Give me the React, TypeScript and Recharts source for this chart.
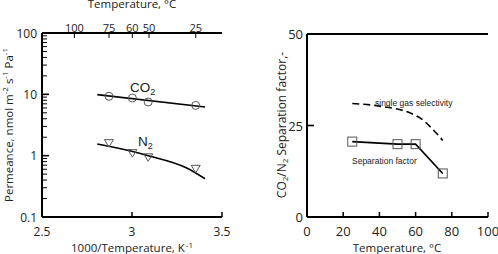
import React from "react";
import { LineChart, Line, XAxis, YAxis } from "recharts";

// ---- left panel: permeance vs 1000/T ----
const invTTicks = [2.5, 3, 3.5];
const permMajorTicks = [0.1, 1, 10, 100];
const permMinorTicks = [
  0.2, 0.3, 0.4, 0.5, 0.6, 0.7, 0.8, 0.9,
  2, 3, 4, 5, 6, 7, 8, 9,
  20, 30, 40, 50, 60, 70, 80, 90,
];
const tempTopTicks = [100, 75, 60, 50, 25]; // °C on the top axis

const co2Points = [
  { x: 2.872, y: 9.3 },
  { x: 3.002, y: 8.7 },
  { x: 3.09, y: 7.5 },
  { x: 3.354, y: 6.6 },
];
const co2Fit = [
  { x: 2.807, y: 9.9 },
  { x: 3.406, y: 6.2 },
];
const n2Points = [
  { x: 2.872, y: 1.6 },
  { x: 3.002, y: 1.1 },
  { x: 3.09, y: 0.94 },
  { x: 3.354, y: 0.61 },
];
const n2Fit = [
  { x: 2.807, y: 1.55 },
  { x: 2.998, y: 1.18 },
  { x: 3.09, y: 1.0 },
  { x: 3.304, y: 0.63 },
  { x: 3.406, y: 0.42 },
];

// ---- right panel: separation factor vs T ----
const tempTicks = [0, 20, 40, 60, 80, 100];
const sepTicks = [0, 25, 50];
const sepFactor = [
  { x: 25, y: 20.6 },
  { x: 50, y: 19.9 },
  { x: 60, y: 19.9 },
  { x: 75, y: 11.9 },
];
const singleGas = [
  { x: 25, y: 31 },
  { x: 40, y: 30.3 },
  { x: 58, y: 28.2 },
  { x: 63, y: 26.9 },
  { x: 69, y: 24.2 },
  { x: 75, y: 20.9 },
];

const FONT = '"Open Sans", sans-serif';
const INK = "#222";
const MARK = "#555";
const axisLine = { stroke: "#000", strokeWidth: 2 };

const toInvT = (t: number) => 1000 / (t + 273.15);

function LeftYTick(props: any) {
  const { x, y, payload } = props;
  const major = permMajorTicks.includes(payload.value);
  return (
    <g>
      <line x1={x} x2={x + (major ? 7 : 5)} y1={y} y2={y} stroke="#000" strokeWidth={major ? 1.6 : 1} />
      {major && (
        <text x={x - 5} y={y} textAnchor="end" dominantBaseline="central" fontSize={12} fill={INK} fontFamily={FONT}>
          {String(payload.value)}
        </text>
      )}
    </g>
  );
}

function BottomTick(props: any) {
  const { x, y, payload, size } = props;
  return (
    <g>
      <line x1={x} x2={x} y1={y} y2={y - 5} stroke="#000" strokeWidth={1.5} />
      <text x={x} y={y + 14} textAnchor="middle" dominantBaseline="central" fontSize={size} fill={INK} fontFamily={FONT}>
        {String(payload.value)}
      </text>
    </g>
  );
}

function TopTempTick(props: any) {
  const { x, y, payload } = props;
  const label = Math.round(1000 / payload.value - 273.15);
  return (
    <g>
      <line x1={x} x2={x} y1={y} y2={y + 5} stroke="#000" strokeWidth={1} />
      <text x={x} y={y - 5.5} textAnchor="middle" dominantBaseline="central" fontSize={11} fill={INK} fontFamily={FONT}>
        {label}
      </text>
    </g>
  );
}

function RightYTick(props: any) {
  const { x, y, payload } = props;
  return (
    <g>
      <line x1={x} x2={x + 7} y1={y} y2={y} stroke="#000" strokeWidth={1.6} />
      <text x={x - 4} y={y} textAnchor="end" dominantBaseline="central" fontSize={13} fill={INK} fontFamily={FONT}>
        {String(payload.value)}
      </text>
    </g>
  );
}

const Circle = (p: any) => (
  <circle key={p.index} cx={p.cx} cy={p.cy} r={4} fill="none" stroke={MARK} strokeWidth={1} />
);
const Triangle = (p: any) => (
  <polygon
    key={p.index}
    points={`${p.cx - 4.5},${p.cy - 3.5} ${p.cx + 4.5},${p.cy - 3.5} ${p.cx},${p.cy + 4}`}
    fill="none"
    stroke={MARK}
    strokeWidth={1}
  />
);
const Square = (p: any) => (
  <rect key={p.index} x={p.cx - 4.5} y={p.cy - 4.5} width={9} height={9} fill="none" stroke={MARK} strokeWidth={1} />
);

export default function App() {
  return (
    <div style={{ position: "absolute", left: 0, top: 0, width: 498, height: 254, background: "#fff", overflow: "hidden" }}>
      <div style={{ position: "absolute", left: 0, top: 0 }}>
        <LineChart width={250} height={254} margin={{ top: 0, right: 28, bottom: 0, left: 0 }}>
          <XAxis
            xAxisId="b"
            type="number"
            dataKey="x"
            domain={[2.5, 3.5]}
            ticks={invTTicks}
            interval={0}
            height={37}
            tickSize={0}
            tickMargin={0}
            tickLine={false}
            axisLine={axisLine}
            allowDataOverflow
            tick={(p: any) => <BottomTick {...p} size={12} />}
          />
          <XAxis
            xAxisId="t"
            orientation="top"
            type="number"
            dataKey="x"
            domain={[2.5, 3.5]}
            ticks={tempTopTicks.map(toInvT)}
            interval={0}
            height={33}
            tickSize={0}
            tickMargin={0}
            tickLine={false}
            axisLine={axisLine}
            allowDataOverflow
            tick={TopTempTick}
          />
          <YAxis
            yAxisId="l"
            scale="log"
            type="number"
            domain={[0.1, 100]}
            ticks={[...permMajorTicks, ...permMinorTicks]}
            interval={0}
            width={42}
            tickSize={0}
            tickMargin={0}
            tickLine={false}
            axisLine={axisLine}
            allowDataOverflow
            tick={LeftYTick}
          />
          <YAxis yAxisId="r" orientation="right" type="number" domain={[0, 1]} width={0} tick={false} tickLine={false} axisLine={axisLine} />
          <Line xAxisId="b" yAxisId="l" data={co2Fit} dataKey="y" type="linear" stroke="#000" strokeWidth={1.6} dot={false} activeDot={false} isAnimationActive={false} />
          <Line xAxisId="b" yAxisId="l" data={n2Fit} dataKey="y" type="monotone" stroke="#000" strokeWidth={1.6} dot={false} activeDot={false} isAnimationActive={false} />
          <Line xAxisId="b" yAxisId="l" data={co2Points} dataKey="y" stroke="none" dot={Circle} activeDot={false} isAnimationActive={false} />
          <Line xAxisId="b" yAxisId="l" data={n2Points} dataKey="y" stroke="none" dot={Triangle} activeDot={false} isAnimationActive={false} />
        </LineChart>
      </div>

      <div style={{ position: "absolute", left: 250, top: 0 }}>
        <LineChart width={248} height={254} margin={{ top: 0, right: 10, bottom: 0, left: 0 }}>
          <XAxis
            xAxisId="b"
            type="number"
            dataKey="x"
            domain={[0, 100]}
            ticks={tempTicks}
            interval={0}
            height={37}
            tickSize={0}
            tickMargin={0}
            tickLine={false}
            axisLine={axisLine}
            allowDataOverflow
            tick={(p: any) => <BottomTick {...p} size={13} />}
          />
          <XAxis xAxisId="t" orientation="top" type="number" dataKey="x" domain={[0, 100]} height={34} tick={false} tickLine={false} axisLine={axisLine} />
          <YAxis
            yAxisId="l"
            type="number"
            domain={[0, 50]}
            ticks={sepTicks}
            interval={0}
            width={57}
            tickSize={0}
            tickMargin={0}
            tickLine={false}
            axisLine={axisLine}
            allowDataOverflow
            tick={RightYTick}
          />
          <YAxis yAxisId="r" orientation="right" type="number" domain={[0, 1]} width={0} tick={false} tickLine={false} axisLine={axisLine} />
          <Line xAxisId="b" yAxisId="l" data={singleGas} dataKey="y" type="monotone" stroke="#000" strokeWidth={1.6} strokeDasharray="7 4" dot={false} activeDot={false} isAnimationActive={false} />
          <Line xAxisId="b" yAxisId="l" data={sepFactor} dataKey="y" type="linear" stroke="#000" strokeWidth={1.6} dot={Square} activeDot={false} isAnimationActive={false} />
        </LineChart>
      </div>

      <svg width={498} height={254} style={{ position: "absolute", left: 0, top: 0, pointerEvents: "none" }} fontFamily={FONT} fill={INK}>
        {/* left panel titles */}
        <text x={132} y={8} textAnchor="middle" fontSize={11.5}>Temperature, °C</text>
        <text x={132} y={252} textAnchor="middle" fontSize={11.5}>
          1000/Temperature, K<tspan dx={1} dy={-4} fontSize={8}>-1</tspan>
        </text>
        <text transform="translate(8,125) rotate(-90)" textAnchor="middle" dominantBaseline="central" fontSize={11.5}>
          Permeance, nmol m<tspan dy={-4} fontSize={8}>-2</tspan>
          <tspan dy={4}> s</tspan><tspan dy={-4} fontSize={8}>-1</tspan>
          <tspan dy={4}> Pa</tspan><tspan dy={-4} fontSize={8}>-1</tspan>
        </text>
        <text x={130} y={92} fontSize={13.5} fontFamily='"Liberation Sans", Arial, sans-serif'>
          CO<tspan dy={3} fontSize={9}>2</tspan>
        </text>
        <text x={138} y={146} fontSize={13.5} fontFamily='"Liberation Sans", Arial, sans-serif'>
          N<tspan dy={3} fontSize={9}>2</tspan>
        </text>

        {/* right panel titles */}
        <text x={397} y={251.5} textAnchor="middle" fontSize={11.5}>Temperature, °C</text>
        <text transform="translate(281,125) rotate(-90)" textAnchor="middle" dominantBaseline="central" fontSize={12}>
          CO<tspan dy={3} fontSize={8}>2</tspan>
          <tspan dy={-3}>/N</tspan><tspan dy={3} fontSize={8}>2</tspan>
          <tspan dy={-3}> Separation factor,-</tspan>
        </text>
        <text x={375} y={102.5} dominantBaseline="central" fontSize={8.5} fontFamily='"Liberation Sans", Arial, sans-serif'>
          single gas selectivity
        </text>
        <text x={352} y={160.7} dominantBaseline="central" fontSize={8.5} fontFamily='"Liberation Sans", Arial, sans-serif'>
          Separation factor
        </text>
      </svg>
    </div>
  );
}
